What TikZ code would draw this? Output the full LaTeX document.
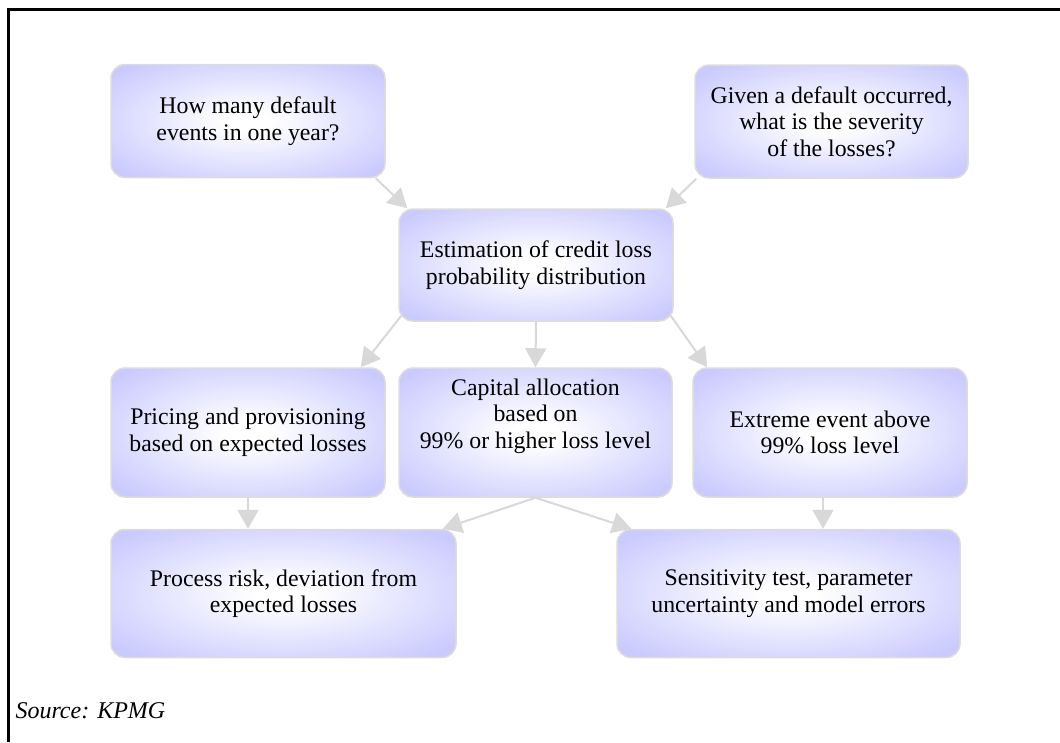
\documentclass[tikz,border=0pt]{standalone}
\usepackage{fontspec}
\setmainfont{Liberation Serif}
\usepackage{tikz}
\usetikzlibrary{arrows.meta}
\usepackage{xcolor}

\definecolor{boxlav}{RGB}{202,202,255}
\definecolor{edgegray}{RGB}{220,220,220}
\definecolor{arrowgray}{RGB}{216,216,216}

\pgfdeclareradialshading{glow}{\pgfpoint{0bp}{0bp}}{color(0bp)=(white); color(4bp)=(white); color(32bp)=(boxlav); color(50bp)=(boxlav)}

\tikzset{
  box/.style={draw=edgegray, line width=1.5pt, rounded corners=14pt, shading=glow,
    align=center, inner sep=0pt, font=\fontsize{23.8}{26.5}\selectfont},
  flow/.style={draw=arrowgray, line width=2pt, -{Triangle[length=19pt,width=21pt]}}
}

\begin{document}
\begin{tikzpicture}[x=1pt,y=-1pt]
  \useasboundingbox (0,0) rectangle (1060,742);
  \draw[line width=3pt] (8,742) -- (8,9) -- (1060,9);

  % questions
  \node[box, minimum width=274pt, minimum height=113pt] (events) at (248,121)
    {How many default\\events in one year?};
  \node[box, minimum width=273pt, minimum height=113pt] (severity) at (831.5,121.5)
    {Given a default occurred,\\what is the severity\\ of the losses?};
  \node[box, minimum width=274pt, minimum height=112pt] (estim) at (536,265)
    {Estimation of credit loss\\ probability distribution};

  % uses of the distribution
  \node[box, minimum width=274pt, minimum height=129pt] (pricing) at (248,432.5)
    {Pricing and provisioning\\based on expected losses};
  \node[box, minimum width=273pt, minimum height=129pt, text depth=38pt] (capital) at (535.5,432.5)
    {Capital allocation\\based on\\99\% or higher loss level};
  \node[box, minimum width=274pt, minimum height=129pt] (extreme) at (830,432.5)
    {Extreme event above\\ 99\% loss level};

  \node[box, minimum width=345pt, minimum height=128pt] (process) at (283.5,593.5)
    {Process risk, deviation from\\expected losses};
  \node[box, minimum width=343pt, minimum height=128pt] (sensit) at (788.5,593.5)
    {Sensitivity test, parameter\\uncertainty and model errors};

  \node[anchor=base west, font=\fontsize{24}{26}\selectfont\itshape] (source) at (12,718)
    {Source: KPMG};

  \draw[flow] ([xshift=-10pt]events.south east) -- ([xshift=9pt]estim.north west);
  \draw[flow] ([xshift=2pt]severity.south west) -- ([xshift=-8pt]estim.north east);
  \draw[flow] ([xshift=3pt,yshift=6pt]estim.south west) -- ([xshift=-25pt]pricing.north east);
  \draw[flow] (estim.south) -- (capital.north);
  \draw[flow] ([xshift=-3pt,yshift=6pt]estim.south east) -- ([xshift=15pt]extreme.north west);
  \draw[flow] (pricing.south) -- ([xshift=-35.5pt]process.north);
  \draw[flow] (capital.south) -- ([xshift=-14pt]process.north east);
  \draw[flow] (capital.south) -- ([xshift=15pt]sensit.north west);
  \draw[flow] ([xshift=-7pt]extreme.south) -- ([xshift=34.5pt]sensit.north);
\end{tikzpicture}
\end{document}
